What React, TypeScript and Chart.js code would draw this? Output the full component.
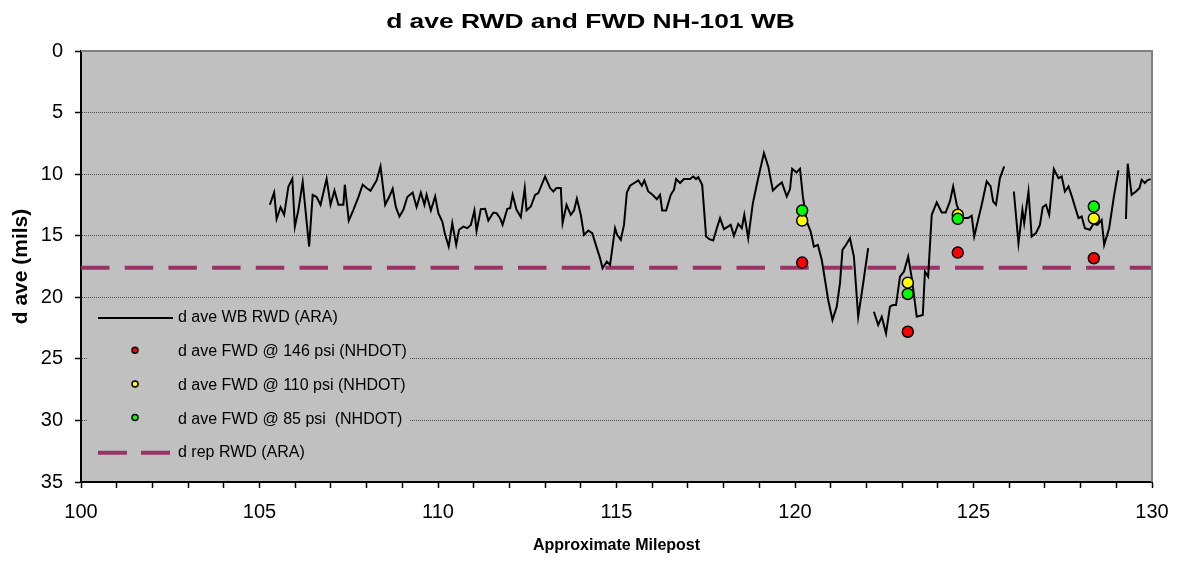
import React, { useEffect, useRef } from "react";
import { Chart, registerables } from "chart.js";

Chart.register(...registerables);

const FONT = '"Liberation Sans", Arial, sans-serif';

const TITLE = "d ave RWD and FWD NH-101 WB";
const X_TITLE = "Approximate Milepost";
const Y_TITLE = "d ave (mils)";
const X_MIN = 100;
const X_MAX = 130;
const Y_MIN = 0;
const Y_MAX = 35;
const Y_STEP = 5;
const X_LABEL_STEP = 5;

const RWD_MILEPOST = [
  105.29, 105.41, 105.48, 105.59, 105.69, 105.81, 105.92, 105.99, 106.09, 106.21,
  106.39, 106.49, 106.6, 106.71, 106.88, 106.99, 107.1, 107.21, 107.35, 107.39,
  107.5, 107.63, 107.77, 107.89, 108.0, 108.11, 108.28, 108.39, 108.52, 108.63,
  108.73, 108.82, 108.92, 109.03, 109.14, 109.29, 109.4, 109.52, 109.62, 109.68,
  109.8, 109.92, 110.01, 110.12, 110.2, 110.3, 110.4, 110.51, 110.59, 110.71,
  110.82, 110.92, 111.02, 111.08, 111.2, 111.32, 111.41, 111.55, 111.64, 111.74,
  111.81, 111.94, 112.02, 112.09, 112.2, 112.32, 112.43, 112.48, 112.6, 112.72,
  112.81, 113.0, 113.14, 113.23, 113.32, 113.44, 113.49, 113.6, 113.72, 113.81,
  113.89, 114.0, 114.09, 114.21, 114.32, 114.45, 114.54, 114.61, 114.73, 114.82,
  114.96, 115.02, 115.12, 115.21, 115.29, 115.38, 115.52, 115.61, 115.71, 115.78,
  115.89, 116.01, 116.13, 116.22, 116.28, 116.39, 116.52, 116.61, 116.67, 116.78,
  116.89, 117.06, 117.15, 117.23, 117.29, 117.4, 117.51, 117.6, 117.71, 117.81,
  117.9, 118.01, 118.1, 118.2, 118.29, 118.41, 118.51, 118.58, 118.69, 118.82,
  118.97, 119.13, 119.25, 119.38, 119.49, 119.63, 119.77, 119.86, 119.92, 120.04,
  120.14, 120.22, 120.33, 120.44, 120.53, 120.64, 120.75, 120.84, 120.93, 121.05,
  121.17, 121.26, 121.33, 121.43, 121.54, 121.65, 121.77, 121.91, 122.05, 122.13,
  122.21, 122.33, 122.43, 122.55, 122.66, 122.74, 122.83, 122.94, 123.05, 123.17,
  123.27, 123.41, 123.58, 123.64, 123.73, 123.83, 123.97, 124.11, 124.22, 124.34,
  124.43, 124.53, 124.67, 124.85, 124.95, 125.02, 125.13, 125.23, 125.37, 125.48,
  125.55, 125.63, 125.74, 125.86, 126.0, 126.13, 126.26, 126.37, 126.42, 126.54,
  126.63, 126.75, 126.86, 126.94, 127.03, 127.12, 127.25, 127.38, 127.47, 127.56,
  127.66, 127.75, 127.84, 127.94, 128.03, 128.12, 128.26, 128.36, 128.47, 128.59,
  128.66, 128.8, 128.94, 129.06, 129.15, 129.27, 129.32, 129.43, 129.55, 129.65,
  129.71, 129.8, 129.87, 129.96,
];

const RWD_DAVE = [
  12.49, 11.49, 13.63, 12.68, 13.3, 11.0, 10.37, 14.26, 12.9, 10.64,
  15.88, 11.68, 11.86, 12.49, 10.37, 12.49, 11.33, 12.49, 12.49, 10.86,
  13.77, 12.9, 11.86, 10.86, 11.13, 11.35, 10.51, 9.37, 12.49, 11.86,
  11.19, 12.68, 13.44, 12.9, 11.86, 11.49, 12.68, 11.49, 12.49, 11.68,
  12.95, 11.81, 13.17, 13.85, 14.93, 15.88, 13.98, 15.74, 14.52, 14.26,
  14.39, 14.12, 12.95, 14.61, 12.84, 12.82, 13.77, 13.12, 13.17, 13.57,
  14.12, 12.82, 12.76, 11.68, 12.9, 13.49, 11.13, 12.95, 12.63, 11.68,
  11.54, 10.19, 11.13, 11.41, 11.13, 11.13, 13.98, 12.49, 13.3, 12.95,
  12.0, 13.3, 14.93, 14.58, 14.79, 16.01, 16.83, 17.64, 17.1, 17.37,
  14.39, 14.93, 15.34, 14.12, 11.49, 10.94, 10.68, 10.51, 10.94, 10.51,
  11.41, 11.68, 12.03, 11.68, 12.95, 12.95, 11.68, 11.27, 10.4, 10.72,
  10.4, 10.4, 10.19, 10.4, 10.24, 10.86, 15.07, 15.28, 15.39, 14.39,
  13.57, 14.47, 14.3, 14.12, 15.01, 14.04, 14.39, 13.3, 15.2, 12.35,
  10.32, 8.28, 9.37, 11.33, 11.0, 10.68, 11.81, 11.21, 9.56, 9.86,
  9.56, 11.81, 13.85, 14.66, 15.88, 15.74, 16.97, 18.59, 20.22, 21.85,
  20.76, 18.86, 16.15, 15.74, 15.2, 16.7, 21.58, 18.86, 16.01, null,
  21.17, 22.25, 21.58, 22.93, 20.76, 20.63, 20.63, 18.32, 17.92, 16.7,
  18.43, 21.58, 21.44, 17.92, 18.32, 13.3, 12.3, 13.12, 13.12, 12.22,
  11.0, 12.49, 13.57, 13.57, 13.38, 15.07, 13.71, 12.49, 10.59, 11.0,
  12.22, 12.49, 10.32, 9.37, null, 11.41, 15.61, 12.9, 13.98, 11.41,
  15.07, 14.79, 14.12, 12.68, 12.49, 13.3, 9.58, 10.32, 10.19, 11.41,
  11.0, 11.76, 12.63, 13.57, 13.44, 14.39, 14.52, 14.04, 14.12, 13.71,
  15.74, 14.39, 11.68, 9.7, null, 13.65, 9.15, 11.68, 11.41, 11.13,
  10.46, 10.72, 10.51, 10.4,
];

const FWD_MILEPOST = [120.2, 123.16, 124.56, 128.37];
const FWD_146 = [17.18, 22.8, 16.37, 16.83];
const FWD_110 = [13.77, 18.81, 13.3, 13.6];
const FWD_85 = [12.95, 19.73, 13.63, 12.63];

const DREP_MILEPOST = [100, 130];
const DREP_VALUE = [17.6, 17.6];

const LEGEND_LABELS = [
  "d ave WB RWD (ARA)",
  "d ave FWD @ 146 psi (NHDOT)",
  "d ave FWD @ 110 psi (NHDOT)",
  "d ave FWD @ 85 psi  (NHDOT)",
  "d rep RWD (ARA)",
];

const COLOR_LINE = "#000000";
const COLOR_146 = "#ff0000";
const COLOR_110 = "#ffff00";
const COLOR_85 = "#00ff00";
const COLOR_REP = "#993366";
const PLOT_BG = "#c0c0c0";

const toPoints = (xs: number[], ys: (number | null)[]) =>
  xs.map((x, i) => ({ x, y: ys[i] }));

const bgPlugin = {
  id: "plotBg",
  beforeDraw(chart: any) {
    const { ctx, chartArea: ca } = chart;
    ctx.save();
    ctx.fillStyle = "#ffffff";
    ctx.fillRect(0, 0, chart.width, chart.height);
    ctx.fillStyle = PLOT_BG;
    ctx.fillRect(ca.left, ca.top, ca.right - ca.left, ca.bottom - ca.top);
    ctx.restore();
  },
};

const framePlugin = {
  id: "frame",
  afterDraw(chart: any) {
    const { ctx, chartArea: ca } = chart;
    ctx.save();
    ctx.strokeStyle = "#808080";
    ctx.lineWidth = 2;
    ctx.beginPath();
    ctx.moveTo(ca.left, ca.top);
    ctx.lineTo(ca.right, ca.top);
    ctx.lineTo(ca.right, ca.bottom);
    ctx.stroke();
    // title, stretched horizontally like the reference
    ctx.fillStyle = "#000";
    ctx.font = `bold 20px ${FONT}`;
    ctx.textAlign = "center";
    ctx.textBaseline = "alphabetic";
    ctx.translate(chart.width / 2, 28);
    ctx.scale(1.32, 1);
    ctx.fillText(TITLE, 0, 0);
    ctx.restore();
  },
};

const legendPlugin = {
  id: "insideLegend",
  afterDatasetsDraw(chart: any) {
    const { ctx, chartArea: ca } = chart;
    const left = ca.left;
    const top = ca.top;
    ctx.save();
    ctx.fillStyle = PLOT_BG;
    ctx.fillRect(left + 7, top + 250, 322, 168);
    const rowY = (i: number) => top + 267 + i * 33.7;
    const sampleL = left + 17;
    const sampleR = left + 92;
    const textX = left + 97;
    // line sample
    ctx.strokeStyle = COLOR_LINE;
    ctx.lineWidth = 2;
    ctx.beginPath();
    ctx.moveTo(sampleL, rowY(0));
    ctx.lineTo(sampleR, rowY(0));
    ctx.stroke();
    // markers
    const cols = [COLOR_146, COLOR_110, COLOR_85];
    cols.forEach((c, k) => {
      ctx.beginPath();
      ctx.arc(left + 54, rowY(k + 1) - 1.5, 3, 0, Math.PI * 2);
      ctx.fillStyle = c;
      ctx.fill();
      ctx.lineWidth = 1.5;
      ctx.strokeStyle = "#000";
      ctx.stroke();
    });
    // dashed sample
    ctx.strokeStyle = COLOR_REP;
    ctx.lineWidth = 4;
    ctx.setLineDash([29, 14]);
    ctx.beginPath();
    ctx.moveTo(sampleL, rowY(4));
    ctx.lineTo(sampleL + 72, rowY(4));
    ctx.stroke();
    ctx.setLineDash([]);
    // labels
    ctx.fillStyle = "#000";
    ctx.font = `16px ${FONT}`;
    ctx.textAlign = "left";
    ctx.textBaseline = "middle";
    LEGEND_LABELS.forEach((t, i) => ctx.fillText(t, textX, rowY(i)));
    ctx.restore();
  },
};

export default function App() {
  const ref = useRef<HTMLCanvasElement | null>(null);

  useEffect(() => {
    if (!ref.current) return;
    Chart.defaults.font.family = FONT;
    const chart = new Chart(ref.current, {
      type: "scatter",
      data: {
        datasets: [
          {
            label: LEGEND_LABELS[0],
            data: toPoints(RWD_MILEPOST, RWD_DAVE),
            showLine: true,
            borderColor: COLOR_LINE,
            borderWidth: 2,
            pointRadius: 0,
            spanGaps: false,
            order: 3,
          },
          {
            label: LEGEND_LABELS[1],
            data: toPoints(FWD_MILEPOST, FWD_146),
            backgroundColor: COLOR_146,
            borderColor: "#000",
            borderWidth: 1.5,
            pointRadius: 5.5,
            order: 2,
          },
          {
            label: LEGEND_LABELS[2],
            data: toPoints(FWD_MILEPOST, FWD_110),
            backgroundColor: COLOR_110,
            borderColor: "#000",
            borderWidth: 1.5,
            pointRadius: 5.5,
            order: 1,
          },
          {
            label: LEGEND_LABELS[3],
            data: toPoints(FWD_MILEPOST, FWD_85),
            backgroundColor: COLOR_85,
            borderColor: "#000",
            borderWidth: 1.5,
            pointRadius: 5.5,
            order: 0,
          },
          {
            label: LEGEND_LABELS[4],
            data: toPoints(DREP_MILEPOST, DREP_VALUE),
            showLine: true,
            borderColor: COLOR_REP,
            borderWidth: 4,
            borderDash: [28.5, 15.2],
            pointRadius: 0,
            order: 4,
          },
        ],
      },
      options: {
        animation: false,
        responsive: false,
        devicePixelRatio: 1,
        layout: { padding: { top: 51, right: 29, left: 0, bottom: 0 } },
        plugins: {
          legend: { display: false },
          tooltip: { enabled: false },
          title: { display: false },
        },
        scales: {
          x: {
            type: "linear",
            min: X_MIN,
            max: X_MAX,
            ticks: {
              stepSize: 1,
              maxTicksLimit: 100,
              autoSkip: false,
              maxRotation: 0,
              minRotation: 0,
              color: "#000",
              font: { size: 20 },
              padding: 12,
              callback: (v: any) => (Number(v) % X_LABEL_STEP === 0 ? String(v) : ""),
            },
            grid: {
              drawOnChartArea: false,
              drawTicks: true,
              tickLength: 6,
              tickColor: "#000",
              tickWidth: 1.5,
            },
            border: { display: true, color: "#000", width: 2 },
            title: {
              display: true,
              text: X_TITLE,
              color: "#000",
              font: { size: 16, weight: "bold" },
              padding: { top: 0, bottom: 16 },
            },
            afterFit: (s: any) => {
              s.height = 89;
            },
          },
          y: {
            type: "linear",
            reverse: true,
            min: Y_MIN,
            max: Y_MAX,
            ticks: {
              stepSize: Y_STEP,
              color: "#000",
              font: { size: 20 },
              padding: 12,
            },
            grid: {
              color: (c: any) =>
                c.tick && (c.tick.value === Y_MIN || c.tick.value === Y_MAX) ? "rgba(0,0,0,0)" : "#505050",
              lineWidth: 1,
              drawTicks: true,
              tickLength: 6,
              tickColor: "#000",
              tickWidth: 1.5,
              tickBorderDash: [],
            },
            border: { display: true, color: "#000", width: 2, dash: [1, 1] },
            title: {
              display: true,
              text: Y_TITLE,
              color: "#000",
              font: { size: 21, weight: "bold" },
              padding: { top: 9, bottom: 0 },
            },
            afterFit: (s: any) => {
              s.width = 81;
            },
          },
        },
      } as any,
      plugins: [bgPlugin, legendPlugin, framePlugin],
    });
    return () => chart.destroy();
  }, []);

  return (
    <div style={{ position: "absolute", left: 0, top: 0, width: 1181, height: 571 }}>
      <canvas ref={ref} width={1181} height={571} style={{ display: "block" }} />
    </div>
  );
}
